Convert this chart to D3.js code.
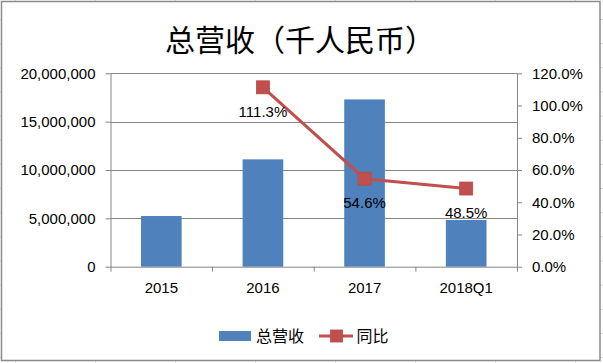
<!DOCTYPE html>
<html>
<head>
<meta charset="utf-8">
<script src="https://cdn.jsdelivr.net/npm/d3@7/dist/d3.min.js"></script>
<style>
  html, body { margin: 0; padding: 0; background: #fff; }
  svg { display: block; }
</style>
</head>
<body>
<svg id="chart" width="603" height="363"></svg>
<script>
// ---- data ----
const categories = ["2015", "2016", "2017", "2018Q1"];
const revenue = [5240000, 11100000, 17300000, 4830000];
const yoy = [null, 111.3, 54.6, 48.5];
const leftTicks = [0, 5000000, 10000000, 15000000, 20000000];
const rightTicks = [0, 20, 40, 60, 80, 100, 120];
const title = "总营收（千人民币）";
const seriesNames = ["总营收", "同比"];

// ---- layout ----
const W = 603, H = 363;
const plot = { left: 110.5, right: 517, top: 73.3, bottom: 266.7 };
const numFont = "'Liberation Sans', Arial, sans-serif";
const cjkFont = "'Noto Sans CJK SC', sans-serif";
const axisColor = "#868686";
const barColor = "#4F81BD";
const lineColor = "#C0504D";

const svg = d3.select("#chart");

// spreadsheet cell grid behind the chart
const cellG = svg.append("g").attr("stroke", "#dadada").attr("stroke-width", 1);
d3.range(15.5, W, 80).forEach(x => cellG.append("line").attr("x1", x).attr("x2", x).attr("y1", 0).attr("y2", H));
d3.range(19.5, H, 24.15).forEach(y => cellG.append("line").attr("x1", 0).attr("x2", W).attr("y1", y).attr("y2", y));

// chart frame
svg.append("rect")
  .attr("x", 1.5).attr("y", 1.5).attr("width", 598.5).attr("height", 359)
  .attr("fill", "#fff").attr("stroke", "#8a8a8a").attr("stroke-width", 1.5);

// scales
const x = d3.scaleBand().domain(categories).range([plot.left, plot.right]).padding(0);
const xb = d3.scaleLinear().domain([0, categories.length]).range([plot.left, plot.right]);
const yL = d3.scaleLinear().domain([0, 20000000]).range([plot.bottom, plot.top]);
const yR = d3.scaleLinear().domain([0, 120]).range([plot.bottom, plot.top]);

// gridlines
svg.append("g").selectAll("line").data(leftTicks.slice(1)).join("line")
  .attr("x1", plot.left).attr("x2", plot.right)
  .attr("y1", d => Math.round(yL(d)) + 0.5).attr("y2", d => Math.round(yL(d)) + 0.5)
  .attr("stroke", axisColor).attr("stroke-width", 1);

// bars
const bw = x.bandwidth() * 0.4;
svg.append("g").selectAll("rect").data(categories).join("rect")
  .attr("x", (d) => x(d) + (x.bandwidth() - bw) / 2)
  .attr("width", bw)
  .attr("y", (d, i) => yL(revenue[i]))
  .attr("height", (d, i) => plot.bottom - yL(revenue[i]))
  .attr("fill", barColor);

function styleAxis(g) {
  g.select(".domain").attr("stroke", axisColor).attr("stroke-width", 1);
  g.selectAll(".tick line").attr("stroke", axisColor).attr("stroke-width", 1);
  g.selectAll(".tick text").attr("fill", "#000").style("font-family", numFont).style("font-size", "15px");
}

// left axis
svg.append("g").attr("transform", `translate(${plot.left},0)`)
  .call(d3.axisLeft(yL).tickValues(leftTicks).tickFormat(d3.format(",")).tickSize(5).tickSizeOuter(0).tickPadding(10))
  .call(styleAxis);

// right axis
svg.append("g").attr("transform", `translate(${plot.right},0)`)
  .call(d3.axisRight(yR).tickValues(rightTicks).tickFormat(d => d3.format(".1f")(d) + "%").tickSize(5).tickSizeOuter(0).tickPadding(10))
  .call(styleAxis);

// bottom axis: boundary ticks
svg.append("g").attr("transform", `translate(0,${plot.bottom})`)
  .call(d3.axisBottom(xb).tickValues(d3.range(0, categories.length + 1)).tickFormat("").tickSize(5).tickSizeOuter(0))
  .call(styleAxis);

// bottom axis: category labels
svg.append("g").attr("transform", `translate(0,${plot.bottom})`)
  .call(d3.axisBottom(x).tickSize(0).tickPadding(16))
  .call(g => g.select(".domain").remove())
  .call(styleAxis);

// line series
const pts = categories.map((c, i) => ({ c, v: yoy[i] }));
const line = d3.line().defined(d => d.v != null)
  .x(d => x(d.c) + x.bandwidth() / 2).y(d => yR(d.v));
svg.append("path").datum(pts)
  .attr("d", line).attr("fill", "none")
  .attr("stroke", lineColor).attr("stroke-width", 3);

const ms = 13;
svg.append("g").selectAll("rect").data(pts.filter(d => d.v != null)).join("rect")
  .attr("x", d => x(d.c) + x.bandwidth() / 2 - ms / 2)
  .attr("y", d => yR(d.v) - ms / 2)
  .attr("width", ms).attr("height", ms)
  .attr("fill", lineColor).attr("stroke", "#b94a47").attr("stroke-width", 0.8);

// data labels
svg.append("g").selectAll("text").data(pts.filter(d => d.v != null)).join("text")
  .attr("x", d => x(d.c) + x.bandwidth() / 2)
  .attr("y", d => yR(d.v) + 29.5)
  .attr("text-anchor", "middle")
  .style("font-family", numFont).style("font-size", "15px").attr("fill", "#000")
  .text(d => d.v.toFixed(1) + "%");

// title
svg.append("text").attr("x", 300).attr("y", 51)
  .attr("text-anchor", "middle")
  .style("font-family", cjkFont).style("font-size", "30px").attr("fill", "#000")
  .text(title);

// legend
const lg = svg.append("g");
lg.append("rect").attr("x", 219).attr("y", 331).attr("width", 32).attr("height", 10).attr("fill", barColor);
lg.append("text").attr("x", 256).attr("y", 342)
  .style("font-family", cjkFont).style("font-size", "16px").attr("fill", "#000").text(seriesNames[0]);
lg.append("line").attr("x1", 319).attr("x2", 353).attr("y1", 336).attr("y2", 336)
  .attr("stroke", lineColor).attr("stroke-width", 3);
lg.append("rect").attr("x", 330.5).attr("y", 330).attr("width", 12).attr("height", 12)
  .attr("fill", lineColor).attr("stroke", "#b94a47").attr("stroke-width", 0.8);
lg.append("text").attr("x", 356.5).attr("y", 342)
  .style("font-family", cjkFont).style("font-size", "16px").attr("fill", "#000").text(seriesNames[1]);
</script>
</body>
</html>
